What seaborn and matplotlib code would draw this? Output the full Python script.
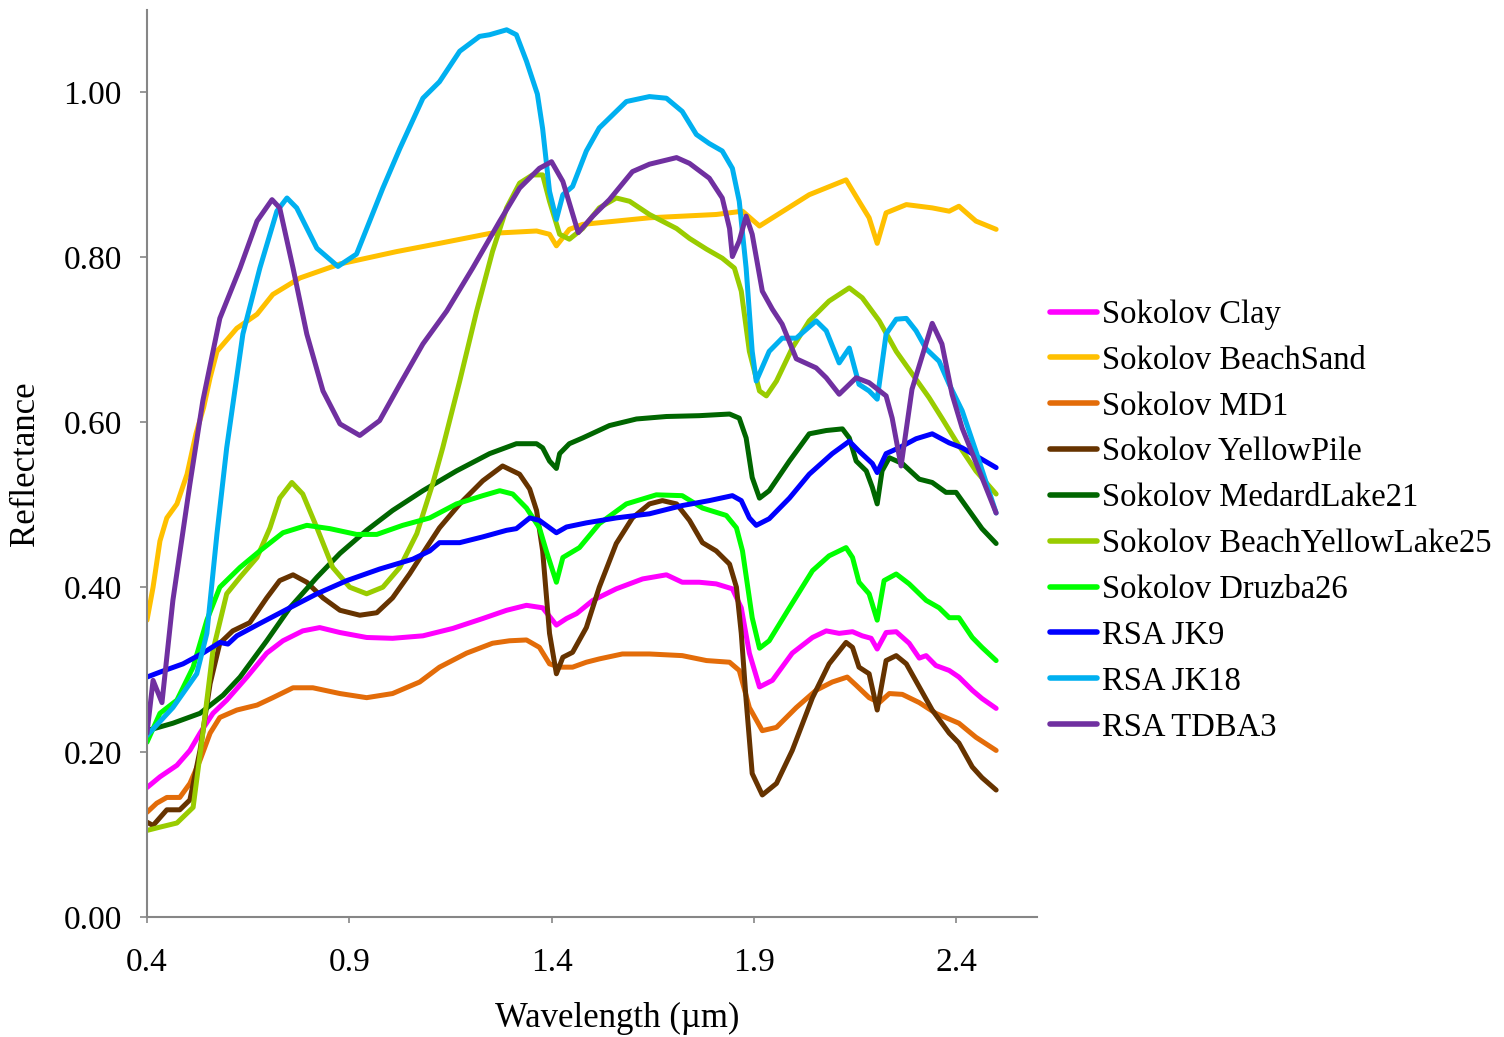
import pandas as pd
import matplotlib
matplotlib.use('Agg')
import matplotlib.pyplot as plt
from matplotlib.ticker import FormatStrFormatter
from matplotlib.lines import Line2D
import seaborn as sns

# spectra (wavelength in um, reflectance)
clay_wl = [0.400, 0.432, 0.474, 0.506, 0.531, 0.563, 0.597, 0.647, 0.696, 0.736, 0.785, 0.827, 0.877, 0.943, 1.007,
           1.082, 1.156, 1.230, 1.289, 1.338, 1.378, 1.412, 1.437, 1.462, 1.502, 1.560, 1.625, 1.684, 1.723, 1.765,
           1.807, 1.847, 1.869, 1.889, 1.914, 1.946, 1.995, 2.045, 2.079, 2.111, 2.144, 2.168, 2.190, 2.205, 2.227,
           2.252, 2.284, 2.309, 2.326, 2.350, 2.383, 2.407, 2.440, 2.464, 2.499]
clay_r = [0.157, 0.170, 0.184, 0.202, 0.223, 0.247, 0.263, 0.291, 0.320, 0.335, 0.347, 0.351, 0.345, 0.339, 0.338,
          0.341, 0.350, 0.362, 0.372, 0.378, 0.375, 0.354, 0.362, 0.368, 0.384, 0.398, 0.410, 0.415, 0.406, 0.406,
          0.404, 0.398, 0.375, 0.320, 0.279, 0.287, 0.320, 0.339, 0.347, 0.344, 0.346, 0.341, 0.338, 0.325, 0.345,
          0.346, 0.332, 0.314, 0.317, 0.305, 0.299, 0.291, 0.275, 0.265, 0.253]

sand_wl = [0.400, 0.415, 0.432, 0.449, 0.474, 0.499, 0.521, 0.540, 0.556, 0.573, 0.622, 0.672, 0.711, 0.778, 0.877,
           1.017, 1.123, 1.247, 1.363, 1.395, 1.412, 1.444, 1.477, 1.642, 1.807, 1.872, 1.914, 2.037, 2.128, 2.160,
           2.185, 2.205, 2.227, 2.277, 2.341, 2.383, 2.407, 2.449, 2.499]
sand_r = [0.360, 0.400, 0.456, 0.484, 0.501, 0.537, 0.586, 0.618, 0.654, 0.686, 0.714, 0.731, 0.755, 0.775, 0.792,
          0.807, 0.817, 0.829, 0.832, 0.828, 0.814, 0.834, 0.840, 0.848, 0.852, 0.856, 0.838, 0.876, 0.894, 0.868,
          0.848, 0.817, 0.854, 0.864, 0.860, 0.856, 0.862, 0.844, 0.834]

md1_wl = [0.400, 0.424, 0.449, 0.481, 0.506, 0.531, 0.556, 0.580, 0.622, 0.672, 0.711, 0.761, 0.810, 0.877, 0.943,
          1.007, 1.074, 1.123, 1.190, 1.254, 1.296, 1.338, 1.370, 1.395, 1.420, 1.452, 1.486, 1.518, 1.575, 1.642,
          1.723, 1.783, 1.840, 1.864, 1.889, 1.921, 1.956, 2.005, 2.054, 2.094, 2.131, 2.153, 2.185, 2.210, 2.235,
          2.267, 2.309, 2.350, 2.407, 2.449, 2.499]
md1_r = [0.127, 0.138, 0.145, 0.145, 0.162, 0.190, 0.223, 0.242, 0.251, 0.257, 0.266, 0.278, 0.278, 0.271, 0.266,
         0.271, 0.285, 0.303, 0.320, 0.332, 0.335, 0.336, 0.327, 0.307, 0.303, 0.303, 0.309, 0.313, 0.319, 0.319,
         0.317, 0.311, 0.309, 0.299, 0.254, 0.226, 0.230, 0.254, 0.275, 0.285, 0.291, 0.281, 0.266, 0.260, 0.271,
         0.270, 0.260, 0.247, 0.235, 0.218, 0.202]

pile_wl = [0.400, 0.415, 0.449, 0.481, 0.506, 0.531, 0.556, 0.580, 0.612, 0.654, 0.696, 0.728, 0.761, 0.795, 0.835,
           0.877, 0.926, 0.968, 1.007, 1.049, 1.091, 1.123, 1.173, 1.230, 1.279, 1.321, 1.346, 1.363, 1.378, 1.395,
           1.412, 1.428, 1.452, 1.486, 1.518, 1.560, 1.600, 1.642, 1.674, 1.709, 1.741, 1.773, 1.807, 1.840, 1.857,
           1.869, 1.881, 1.896, 1.921, 1.956, 1.995, 2.045, 2.086, 2.128, 2.144, 2.160, 2.185, 2.205, 2.227, 2.252,
           2.277, 2.309, 2.341, 2.383, 2.407, 2.440, 2.464, 2.499]
pile_r = [0.115, 0.111, 0.130, 0.130, 0.142, 0.202, 0.283, 0.332, 0.347, 0.357, 0.387, 0.408, 0.415, 0.406, 0.387,
          0.372, 0.366, 0.369, 0.387, 0.416, 0.448, 0.472, 0.501, 0.529, 0.547, 0.537, 0.519, 0.493, 0.444, 0.344,
          0.295, 0.315, 0.321, 0.351, 0.400, 0.453, 0.484, 0.501, 0.505, 0.501, 0.481, 0.454, 0.444, 0.428, 0.400,
          0.344, 0.263, 0.174, 0.148, 0.162, 0.202, 0.266, 0.307, 0.333, 0.327, 0.303, 0.295, 0.251, 0.311, 0.317,
          0.307, 0.279, 0.251, 0.223, 0.211, 0.182, 0.169, 0.154]

medard_wl = [0.400, 0.464, 0.531, 0.588, 0.630, 0.696, 0.753, 0.820, 0.877, 0.943, 1.007, 1.082, 1.165, 1.247, 1.313,
             1.363, 1.378, 1.395, 1.412, 1.420, 1.444, 1.477, 1.543, 1.610, 1.684, 1.765, 1.840, 1.864, 1.881, 1.896,
             1.914, 1.938, 1.988, 2.037, 2.079, 2.119, 2.136, 2.153, 2.178, 2.193, 2.205, 2.217, 2.235, 2.267, 2.309,
             2.341, 2.375, 2.400, 2.432, 2.464, 2.499]
medard_r = [0.226, 0.235, 0.247, 0.269, 0.291, 0.335, 0.375, 0.412, 0.441, 0.469, 0.493, 0.517, 0.541, 0.562, 0.574,
            0.574, 0.569, 0.553, 0.544, 0.562, 0.574, 0.581, 0.596, 0.604, 0.607, 0.608, 0.610, 0.605, 0.581, 0.533,
            0.508, 0.517, 0.553, 0.586, 0.590, 0.592, 0.581, 0.553, 0.541, 0.521, 0.501, 0.541, 0.557, 0.550, 0.531,
            0.527, 0.515, 0.515, 0.493, 0.471, 0.453]

byl_wl = [0.400, 0.432, 0.474, 0.514, 0.538, 0.563, 0.597, 0.630, 0.672, 0.704, 0.728, 0.758, 0.785, 0.820, 0.859,
          0.901, 0.943, 0.983, 1.025, 1.067, 1.106, 1.131, 1.173, 1.215, 1.254, 1.289, 1.321, 1.353, 1.378, 1.395,
          1.420, 1.444, 1.477, 1.518, 1.560, 1.593, 1.642, 1.709, 1.741, 1.783, 1.822, 1.852, 1.869, 1.889, 1.914,
          1.931, 1.956, 1.995, 2.037, 2.086, 2.136, 2.168, 2.210, 2.252, 2.291, 2.333, 2.365, 2.400, 2.449, 2.499]
byl_r = [0.105, 0.109, 0.114, 0.133, 0.223, 0.323, 0.392, 0.412, 0.436, 0.472, 0.508, 0.527, 0.513, 0.472, 0.424,
         0.400, 0.392, 0.400, 0.424, 0.465, 0.525, 0.569, 0.650, 0.735, 0.807, 0.860, 0.890, 0.900, 0.900, 0.868,
         0.828, 0.822, 0.835, 0.860, 0.872, 0.868, 0.852, 0.835, 0.823, 0.810, 0.799, 0.787, 0.759, 0.686, 0.638,
         0.632, 0.650, 0.690, 0.723, 0.747, 0.763, 0.751, 0.723, 0.686, 0.659, 0.630, 0.605, 0.577, 0.541, 0.513]

druzba_wl = [0.400, 0.432, 0.474, 0.514, 0.548, 0.580, 0.630, 0.679, 0.736, 0.795, 0.852, 0.918, 0.968, 1.032, 1.099,
             1.165, 1.230, 1.272, 1.304, 1.338, 1.370, 1.387, 1.412, 1.428, 1.469, 1.518, 1.585, 1.659, 1.723, 1.773,
             1.832, 1.857, 1.872, 1.896, 1.914, 1.938, 1.988, 2.045, 2.086, 2.128, 2.144, 2.160, 2.185, 2.205, 2.222,
             2.252, 2.284, 2.326, 2.358, 2.383, 2.407, 2.440, 2.464, 2.499]
druzba_r = [0.212, 0.247, 0.263, 0.303, 0.360, 0.400, 0.424, 0.444, 0.466, 0.475, 0.471, 0.464, 0.464, 0.475, 0.484,
            0.501, 0.511, 0.517, 0.513, 0.496, 0.472, 0.444, 0.406, 0.436, 0.448, 0.477, 0.501, 0.512, 0.511, 0.496,
            0.487, 0.472, 0.444, 0.363, 0.326, 0.335, 0.375, 0.420, 0.438, 0.448, 0.436, 0.406, 0.392, 0.360, 0.408,
            0.416, 0.404, 0.384, 0.375, 0.363, 0.363, 0.339, 0.327, 0.311]

jk9_wl = [0.400, 0.432, 0.489, 0.538, 0.580, 0.600, 0.622, 0.679, 0.753, 0.820, 0.894, 0.975, 1.057, 1.099, 1.123,
          1.173, 1.230, 1.289, 1.313, 1.346, 1.370, 1.412, 1.437, 1.486, 1.560, 1.642, 1.723, 1.790, 1.847, 1.869,
          1.889, 1.906, 1.938, 1.988, 2.037, 2.094, 2.136, 2.160, 2.193, 2.205, 2.227, 2.259, 2.301, 2.341, 2.383,
          2.415, 2.457, 2.499]
jk9_r = [0.291, 0.297, 0.307, 0.320, 0.333, 0.331, 0.341, 0.356, 0.375, 0.392, 0.408, 0.422, 0.434, 0.444, 0.454,
         0.454, 0.461, 0.469, 0.471, 0.484, 0.481, 0.466, 0.473, 0.478, 0.484, 0.489, 0.499, 0.505, 0.511, 0.505,
         0.484, 0.475, 0.483, 0.508, 0.537, 0.562, 0.577, 0.565, 0.550, 0.539, 0.562, 0.569, 0.580, 0.586, 0.575,
         0.569, 0.557, 0.545]

jk18_wl = [0.400, 0.464, 0.523, 0.548, 0.573, 0.597, 0.637, 0.679, 0.721, 0.746, 0.770, 0.820, 0.872, 0.918, 0.983,
           1.025, 1.082, 1.123, 1.173, 1.222, 1.247, 1.289, 1.313, 1.338, 1.365, 1.378, 1.395, 1.412, 1.428, 1.452,
           1.486, 1.518, 1.585, 1.642, 1.684, 1.723, 1.758, 1.790, 1.822, 1.847, 1.864, 1.881, 1.896, 1.906, 1.938,
           1.970, 2.005, 2.054, 2.079, 2.111, 2.136, 2.160, 2.185, 2.205, 2.227, 2.252, 2.277, 2.301, 2.326, 2.358,
           2.383, 2.415, 2.449, 2.499]
jk18_r = [0.220, 0.254, 0.295, 0.344, 0.465, 0.569, 0.707, 0.787, 0.856, 0.872, 0.860, 0.811, 0.789, 0.804, 0.884,
          0.932, 0.993, 1.013, 1.050, 1.068, 1.070, 1.076, 1.070, 1.038, 0.998, 0.956, 0.880, 0.846, 0.876, 0.886,
          0.929, 0.957, 0.989, 0.995, 0.993, 0.977, 0.949, 0.938, 0.929, 0.908, 0.868, 0.787, 0.686, 0.650, 0.686,
          0.702, 0.702, 0.723, 0.711, 0.672, 0.690, 0.646, 0.638, 0.628, 0.707, 0.725, 0.726, 0.711, 0.689, 0.674,
          0.646, 0.614, 0.565, 0.490]

tdba3_wl = [0.400, 0.415, 0.437, 0.464, 0.506, 0.538, 0.580, 0.630, 0.672, 0.709, 0.728, 0.761, 0.795, 0.835, 0.877,
            0.926, 0.975, 1.025, 1.082, 1.141, 1.205, 1.272, 1.321, 1.370, 1.400, 1.428, 1.466, 1.502, 1.543, 1.600,
            1.642, 1.709, 1.741, 1.790, 1.822, 1.840, 1.847, 1.864, 1.881, 1.896, 1.921, 1.946, 1.970, 2.005, 2.054,
            2.079, 2.111, 2.153, 2.185, 2.227, 2.242, 2.264, 2.291, 2.341, 2.365, 2.390, 2.415, 2.499]
tdba3_r = [0.223, 0.287, 0.260, 0.384, 0.525, 0.626, 0.726, 0.787, 0.844, 0.870, 0.860, 0.787, 0.707, 0.638, 0.598,
           0.584, 0.602, 0.646, 0.695, 0.735, 0.787, 0.844, 0.884, 0.908, 0.916, 0.892, 0.830, 0.850, 0.870, 0.904,
           0.913, 0.921, 0.914, 0.896, 0.872, 0.835, 0.801, 0.820, 0.850, 0.828, 0.759, 0.737, 0.719, 0.677, 0.666,
           0.654, 0.634, 0.654, 0.648, 0.632, 0.605, 0.547, 0.640, 0.720, 0.695, 0.634, 0.593, 0.490]

names = ['Sokolov Clay', 'Sokolov BeachSand', 'Sokolov MD1', 'Sokolov YellowPile', 'Sokolov MedardLake21',
         'Sokolov BeachYellowLake25', 'Sokolov Druzba26', 'RSA JK9', 'RSA JK18', 'RSA TDBA3']
colors = ['#FF00FF', '#FFC000', '#E36C09', '#663300', '#006600',
          '#99CC00', '#00FF00', '#0000FF', '#00B0F0', '#7030A0']
wls = [clay_wl, sand_wl, md1_wl, pile_wl, medard_wl, byl_wl, druzba_wl, jk9_wl, jk18_wl, tdba3_wl]
refl = [clay_r, sand_r, md1_r, pile_r, medard_r, byl_r, druzba_r, jk9_r, jk18_r, tdba3_r]

# long table for seaborn
df = pd.concat([pd.DataFrame({'wavelength': w, 'reflectance': r, 'sample': n})
                for n, w, r in zip(names, wls, refl)], ignore_index=True)

sns.set_style('ticks')
plt.rcParams['font.family'] = ['Liberation Serif', 'DejaVu Serif']
plt.rcParams['text.color'] = 'black'
plt.rcParams['axes.labelcolor'] = 'black'

fig = plt.figure(figsize=(15.04, 10.37), dpi=100)
ax = fig.add_axes([147 / 1504, 1 - 917 / 1037, 890 / 1504, 907 / 1037])

sns.lineplot(data=df, x='wavelength', y='reflectance', hue='sample', hue_order=names,
             palette=dict(zip(names, colors)), estimator=None, linewidth=3.6,
             legend=False, ax=ax, solid_joinstyle='round', solid_capstyle='round')

ax.set_xlim(0.4, 2.6)
ax.set_ylim(0, 1.1)
ax.set_xticks([0.4, 0.9, 1.4, 1.9, 2.4])
ax.set_yticks([0.0, 0.2, 0.4, 0.6, 0.8, 1.0])
ax.xaxis.set_major_formatter(FormatStrFormatter('%.1f'))
ax.yaxis.set_major_formatter(FormatStrFormatter('%.2f'))

for side in ['top', 'right']:
    ax.spines[side].set_visible(False)
for side in ['left', 'bottom']:
    ax.spines[side].set_color('#868686')
    ax.spines[side].set_linewidth(1.5)

ax.tick_params(axis='y', direction='out', length=5, width=1.2, color='#868686', pad=13,
               labelsize=24, labelcolor='black')
ax.tick_params(axis='x', direction='out', length=4, width=1.2, color='#868686', pad=18,
               labelsize=24, labelcolor='black')

ax.set_xlabel('Wavelength (µm)', fontsize=25, color='black')
ax.set_ylabel('Reflectance', fontsize=25, color='black')
ax.xaxis.set_label_coords(0.528, -0.094)
ax.yaxis.set_label_coords(-0.118, 0.5)

handles = [Line2D([], [], color=c, linewidth=4, solid_capstyle='round') for c in colors]
fig.legend(handles, names, loc='center left', bbox_to_anchor=(1050 / 1504, 1 - 521 / 1037),
           frameon=False, fontsize=23.5, handlelength=1.45, handletextpad=0.15,
           labelspacing=0.47, borderpad=0, borderaxespad=0, labelcolor='black')

fig.savefig('out.png', dpi=100, facecolor='white')
